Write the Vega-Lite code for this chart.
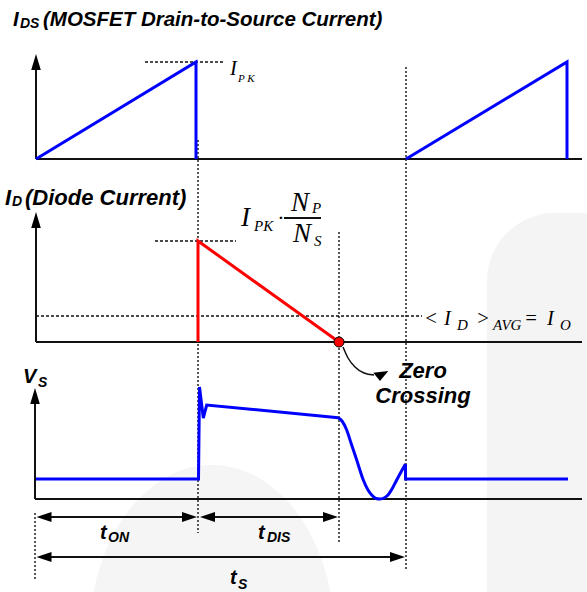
{
  "$schema": "https://vega.github.io/schema/vega-lite/v6.json",
  "width": 587,
  "height": 592,
  "padding": 0,
  "autosize": {"type": "none"},
  "background": "white",
  "config": {"view": {"stroke": null}},
  "encoding": {
    "x": {"field": "x", "type": "quantitative", "scale": {"domain": [0, 587], "nice": false, "zero": false}, "axis": null},
    "y": {"field": "y", "type": "quantitative", "scale": {"domain": [0, 592], "nice": false, "zero": false, "reverse": true}, "axis": null}
  },
  "layer": [
    {
      "data": {"values": [{"x": 487, "y": 213, "x2": 760, "y2": 760}]},
      "mark": {"type": "rect", "color": "#f4f4f4", "cornerRadius": 68},
      "encoding": {"x2": {"field": "x2"}, "y2": {"field": "y2"}}
    },
    {
      "data": {"values": [{"x": 212, "y": 635}]},
      "mark": {"type": "point", "filled": true, "color": "#f5f5f5", "opacity": 1, "strokeWidth": 0, "size": 115600, "shape": "M-0.72,0A0.72,1,0,1,1,0.72,0A0.72,1,0,1,1,-0.72,0Z"}
    },
    {
      "data": {"values": [
        {"x": 36, "y": 70, "x2": 36, "y2": 159},
        {"x": 36, "y": 159, "x2": 582, "y2": 159},
        {"x": 36, "y": 227, "x2": 36, "y2": 342},
        {"x": 36, "y": 342, "x2": 582, "y2": 342},
        {"x": 35, "y": 404, "x2": 35, "y2": 499},
        {"x": 35, "y": 499, "x2": 582, "y2": 499},
        {"x": 284, "y": 218, "x2": 321, "y2": 218},
        {"x": 45, "y": 517, "x2": 190, "y2": 517},
        {"x": 207, "y": 517, "x2": 331, "y2": 517},
        {"x": 45, "y": 557, "x2": 398, "y2": 557}
      ]},
      "mark": {"type": "rule", "color": "#111111", "strokeWidth": 2},
      "encoding": {"x2": {"field": "x2"}, "y2": {"field": "y2"}}
    },
    {
      "data": {"values": [
        {"x": 35, "y": 513, "x2": 35, "y2": 580},
        {"x": 198, "y": 140, "x2": 198, "y2": 533},
        {"x": 339, "y": 232, "x2": 339, "y2": 543},
        {"x": 406, "y": 67, "x2": 406, "y2": 570}
      ]},
      "mark": {"type": "rule", "color": "#222222", "strokeWidth": 1.5, "strokeDash": [2, 2]},
      "encoding": {"x2": {"field": "x2"}, "y2": {"field": "y2"}}
    },
    {
      "data": {"values": [
        {"x": 145, "y": 62, "x2": 225, "y2": 62},
        {"x": 155, "y": 241, "x2": 236, "y2": 241},
        {"x": 36, "y": 316, "x2": 422, "y2": 316}
      ]},
      "mark": {"type": "rule", "color": "#111111", "strokeWidth": 1.3, "strokeDash": [3, 2]},
      "encoding": {"x2": {"field": "x2"}, "y2": {"field": "y2"}}
    },
    {
      "data": {"values": [
        {"seg": "a", "i": 1, "x": 36, "y": 159},
        {"seg": "a", "i": 2, "x": 196, "y": 62},
        {"seg": "a", "i": 3, "x": 196, "y": 159},
        {"seg": "b", "i": 1, "x": 406, "y": 159},
        {"seg": "b", "i": 2, "x": 567, "y": 62},
        {"seg": "b", "i": 3, "x": 567, "y": 159},
        {"seg": "c", "i": 1, "x": 36, "y": 479},
        {"seg": "c", "i": 2, "x": 198.5, "y": 479},
        {"seg": "c", "i": 3, "x": 199.5, "y": 387},
        {"seg": "c", "i": 4, "x": 203.3, "y": 418},
        {"seg": "c", "i": 5, "x": 206.7, "y": 405},
        {"seg": "c", "i": 6, "x": 338.3, "y": 417.7},
        {"seg": "e", "i": 1, "x": 405.5, "y": 464},
        {"seg": "e", "i": 2, "x": 405.5, "y": 479},
        {"seg": "e", "i": 3, "x": 568, "y": 479}
      ]},
      "mark": {"type": "line", "color": "#0000ff", "strokeWidth": 3},
      "encoding": {"detail": {"field": "seg"}, "order": {"field": "i", "type": "quantitative"}}
    },
    {
      "data": {"values": [
        {"i": 1, "x": 338.3, "y": 417.7},
        {"i": 2, "x": 342, "y": 421},
        {"i": 3, "x": 346.7, "y": 430},
        {"i": 4, "x": 351, "y": 443},
        {"i": 5, "x": 356.7, "y": 460},
        {"i": 6, "x": 363.3, "y": 480},
        {"i": 7, "x": 368, "y": 490},
        {"i": 8, "x": 371.7, "y": 495},
        {"i": 9, "x": 376, "y": 498.5},
        {"i": 10, "x": 380, "y": 499},
        {"i": 11, "x": 384, "y": 498},
        {"i": 12, "x": 388, "y": 495},
        {"i": 13, "x": 392, "y": 489},
        {"i": 14, "x": 396.7, "y": 480},
        {"i": 15, "x": 401, "y": 472},
        {"i": 16, "x": 405.5, "y": 464}
      ]},
      "mark": {"type": "line", "color": "#0000ff", "strokeWidth": 3, "interpolate": "monotone"},
      "encoding": {"order": {"field": "i", "type": "quantitative"}}
    },
    {
      "data": {"values": [
        {"i": 1, "x": 198, "y": 342},
        {"i": 2, "x": 198, "y": 241},
        {"i": 3, "x": 339, "y": 342}
      ]},
      "mark": {"type": "line", "color": "#ff0000", "strokeWidth": 3},
      "encoding": {"order": {"field": "i", "type": "quantitative"}}
    },
    {
      "data": {"values": [
        {"i": 1, "x": 343, "y": 347},
        {"i": 2, "x": 348, "y": 358},
        {"i": 3, "x": 355, "y": 367},
        {"i": 4, "x": 364, "y": 373},
        {"i": 5, "x": 374, "y": 375}
      ]},
      "mark": {"type": "line", "color": "#111111", "strokeWidth": 1.5, "interpolate": "monotone"},
      "encoding": {"order": {"field": "i", "type": "quantitative"}}
    },
    {
      "data": {"values": [
        {"x": 36, "y": 62, "dir": "up"},
        {"x": 36, "y": 220, "dir": "up"},
        {"x": 35, "y": 396, "dir": "up"},
        {"x": 44, "y": 517, "dir": "left"},
        {"x": 207.5, "y": 517, "dir": "left"},
        {"x": 44, "y": 557, "dir": "left"},
        {"x": 189.5, "y": 517, "dir": "right"},
        {"x": 330.5, "y": 517, "dir": "right"},
        {"x": 397.5, "y": 557, "dir": "right"},
        {"x": 380, "y": 375, "dir": "zc"}
      ]},
      "mark": {"type": "point", "filled": true, "opacity": 1, "color": "#000000", "strokeWidth": 0, "size": 256},
      "encoding": {
        "shape": {"field": "dir", "type": "nominal", "legend": null,
          "scale": {"domain": ["up", "left", "right", "zc"],
            "range": ["M0,-1L0.6,1L-0.6,1Z", "M-0.94,0L0.94,-0.62L0.94,0.62Z", "M0.94,0L-0.94,-0.62L-0.94,0.62Z", "M-0.84,-0.29L1.04,-0.5L0,0.75Z"]}}
      }
    },
    {
      "data": {"values": [{"x": 339, "y": 342}]},
      "mark": {"type": "point", "filled": true, "opacity": 1, "color": "#ff0000", "stroke": "#000000", "strokeWidth": 1, "size": 100, "shape": "circle"}
    },
    {
      "data": {"values": [
        {"x": 13, "y": 26, "t": "I"},
        {"x": 43, "y": 26, "t": "(MOSFET Drain-to-Source Current)"}
      ]},
      "mark": {"type": "text", "font": "Liberation Sans", "fontSize": 20.5, "fontWeight": "bold", "fontStyle": "italic", "align": "left", "baseline": "alphabetic", "color": "#000000"},
      "encoding": {"text": {"field": "t"}}
    },
    {
      "data": {"values": [
        {"x": 5, "y": 205, "t": "I"},
        {"x": 25, "y": 205, "t": "(Diode Current)"}
      ]},
      "mark": {"type": "text", "font": "Liberation Sans", "fontSize": 22, "fontWeight": "bold", "fontStyle": "italic", "align": "left", "baseline": "alphabetic", "color": "#000000"},
      "encoding": {"text": {"field": "t"}}
    },
    {
      "data": {"values": [
        {"x": 23, "y": 383, "t": "V"},
        {"x": 100, "y": 539, "t": "t"},
        {"x": 258, "y": 539, "t": "t"},
        {"x": 230, "y": 584, "t": "t"}
      ]},
      "mark": {"type": "text", "font": "Liberation Sans", "fontSize": 20, "fontWeight": "bold", "fontStyle": "italic", "align": "left", "baseline": "alphabetic", "color": "#000000"},
      "encoding": {"text": {"field": "t"}}
    },
    {
      "data": {"values": [
        {"x": 20, "y": 28, "t": "DS"},
        {"x": 12, "y": 206, "t": "D"},
        {"x": 38, "y": 387, "t": "S"},
        {"x": 108, "y": 542, "t": "ON"},
        {"x": 267, "y": 542, "t": "DIS"},
        {"x": 238, "y": 589, "t": "S"}
      ]},
      "mark": {"type": "text", "font": "Liberation Sans", "fontSize": 14, "fontWeight": "bold", "fontStyle": "italic", "align": "left", "baseline": "alphabetic", "color": "#000000"},
      "encoding": {"text": {"field": "t"}}
    },
    {
      "data": {"values": [
        {"x": 423, "y": 378, "t": "Zero"},
        {"x": 423, "y": 403, "t": "Crossing"}
      ]},
      "mark": {"type": "text", "font": "Liberation Sans", "fontSize": 22, "fontWeight": "bold", "fontStyle": "italic", "align": "center", "baseline": "alphabetic", "color": "#000000"},
      "encoding": {"text": {"field": "t"}}
    },
    {
      "data": {"values": [
        {"x": 241, "y": 226, "t": "I"},
        {"x": 291, "y": 211, "t": "N"},
        {"x": 293, "y": 242, "t": "N"}
      ]},
      "mark": {"type": "text", "font": "Liberation Serif", "fontSize": 27, "fontStyle": "italic", "align": "left", "baseline": "alphabetic", "color": "#000000"},
      "encoding": {"text": {"field": "t"}}
    },
    {
      "data": {"values": [
        {"x": 230, "y": 75, "t": "I"},
        {"x": 424, "y": 325, "t": "<"},
        {"x": 444, "y": 325, "t": "I"},
        {"x": 476, "y": 325, "t": ">"},
        {"x": 524, "y": 325, "t": "="},
        {"x": 547, "y": 325, "t": "I"}
      ]},
      "mark": {"type": "text", "font": "Liberation Serif", "fontSize": 20.5, "fontStyle": "italic", "align": "left", "baseline": "alphabetic", "color": "#000000"},
      "encoding": {"text": {"field": "t"}}
    },
    {
      "data": {"values": [
        {"x": 238, "y": 82, "t": "P K"}
      ]},
      "mark": {"type": "text", "font": "Liberation Serif", "fontSize": 11, "fontStyle": "italic", "align": "left", "baseline": "alphabetic", "color": "#000000"},
      "encoding": {"text": {"field": "t"}}
    },
    {
      "data": {"values": [
        {"x": 254, "y": 231, "t": "PK"},
        {"x": 312, "y": 213, "t": "P"},
        {"x": 314, "y": 246, "t": "S"},
        {"x": 457, "y": 330, "t": "D"},
        {"x": 493, "y": 330, "t": "AVG"},
        {"x": 560, "y": 330, "t": "O"}
      ]},
      "mark": {"type": "text", "font": "Liberation Serif", "fontSize": 15, "fontStyle": "italic", "align": "left", "baseline": "alphabetic", "color": "#000000"},
      "encoding": {"text": {"field": "t"}}
    },
    {
      "data": {"values": [{"x": 281, "y": 218, "t": "·"}]},
      "mark": {"type": "text", "font": "Liberation Serif", "fontSize": 22, "align": "center", "baseline": "middle", "color": "#000000"},
      "encoding": {"text": {"field": "t"}}
    }
  ]
}
